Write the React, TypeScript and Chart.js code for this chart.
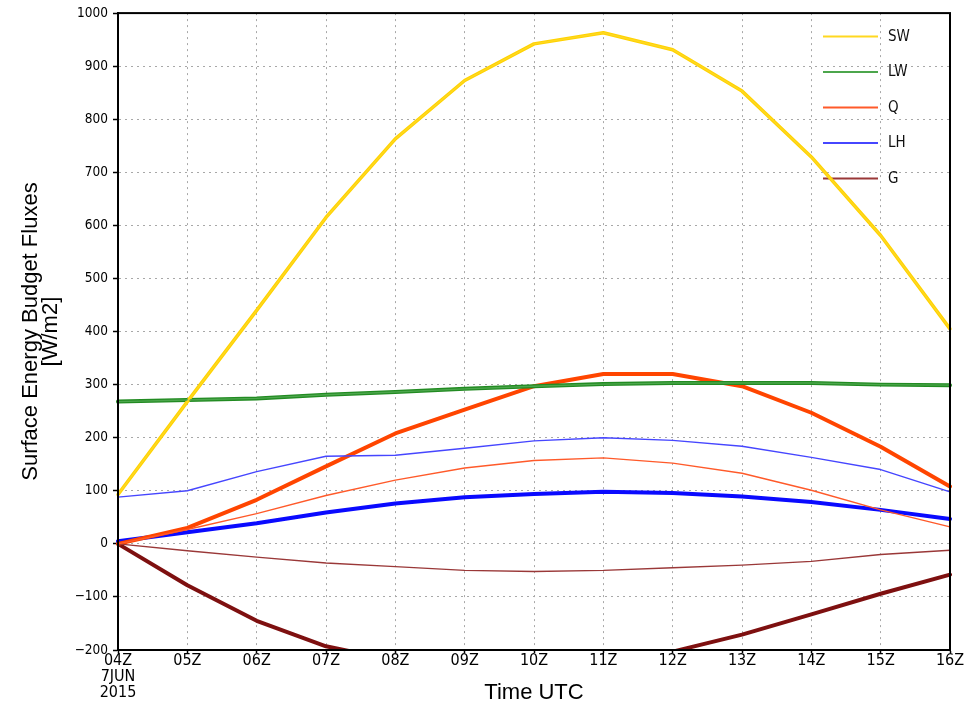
import React, { useEffect, useRef } from 'react';
import { Chart, registerables } from 'chart.js';

Chart.register(...registerables);

// ---- data ----
const timeLabels: (string | string[])[] = [
  ['04Z', '7JUN', '2015'], '05Z', '06Z', '07Z', '08Z', '09Z', '10Z', '11Z', '12Z', '13Z', '14Z', '15Z', '16Z',
];
const seriesNames = ['SW', 'LW', 'Q', 'LH', 'G'];

const swThin = [93, 268, 440, 615, 763, 873, 942, 963, 931, 853, 729, 581, 405];
const lwThin = [268, 271, 274, 281, 286, 292, 297, 301, 303, 303, 303, 300, 299];
const qThin = [0, 27, 57, 91, 120, 143, 157, 162, 152, 133, 101, 64, 32];
const lhThin = [88, 100, 136, 165, 167, 180, 194, 200, 195, 184, 163, 140, 98];
const gThin = [0, -13, -25, -36, -43, -50, -52, -50, -45, -40, -33, -20, -12];

const swThick = [93, 268, 440, 615, 763, 873, 942, 963, 931, 853, 729, 581, 405];
const lwThick = [268, 271, 274, 281, 286, 292, 297, 301, 303, 303, 303, 300, 299];
const qThick = [0, 30, 83, 146, 208, 253, 297, 320, 320, 297, 247, 183, 108];
const lhThick = [5, 22, 39, 59, 76, 88, 94, 98, 96, 89, 79, 64, 47];
const gThick = [0, -78, -145, -193, -220, -240, -250, -235, -203, -171, -133, -94, -58];

const yTickMin = -200;
const yTickMax = 1000;
const yTickStep = 100;

// ---- styles ----
const thinColors = ['#FFD820', '#4CA64C', '#FF5A2A', '#4646FF', '#9A3838'];
const thickColors = ['#FFD200', '#228B22', '#FF4500', '#0A0AFF', '#7E1010'];
const NARROW = '"Liberation Sans Narrow", "DejaVu Sans Condensed", "Liberation Sans", sans-serif';
const SANS = '"Liberation Sans", "DejaVu Sans", sans-serif';

const thinData = [swThin, lwThin, qThin, lhThin, gThin];
const thickData = [swThick, lwThick, qThick, lhThick, gThick];

const insideLegend = {
  id: 'insideLegend',
  beforeDatasetsDraw(chart: any) {
    const { ctx, chartArea } = chart;
    const items = chart.data.datasets.filter((d: any) => d.inLegend);
    ctx.save();
    items.forEach((d: any, i: number) => {
      const y = chartArea.top + 23.5 + i * 35.5;
      ctx.strokeStyle = d.borderColor;
      ctx.lineWidth = 2;
      ctx.beginPath();
      ctx.moveTo(chartArea.right - 127, y);
      ctx.lineTo(chartArea.right - 72, y);
      ctx.stroke();
      ctx.fillStyle = '#111';
      ctx.font = `15px ${NARROW}`;
      ctx.textAlign = 'left';
      ctx.textBaseline = 'middle';
      ctx.fillText(d.label, chartArea.right - 62, y + 0.5);
    });
    ctx.restore();
  },
};

const frame = {
  id: 'frame',
  afterDraw(chart: any) {
    const { ctx, chartArea } = chart;
    ctx.save();
    ctx.strokeStyle = '#000';
    ctx.lineWidth = 2;
    ctx.strokeRect(chartArea.left, chartArea.top, chartArea.right - chartArea.left, chartArea.bottom - chartArea.top);
    ctx.restore();
  },
};

export default function App() {
  const canvasRef = useRef<HTMLCanvasElement | null>(null);

  useEffect(() => {
    if (!canvasRef.current) return;
    const datasets: any[] = [];
    seriesNames.forEach((name, i) => {
      datasets.push({
        label: name,
        inLegend: true,
        data: thinData[i],
        borderColor: thinColors[i],
        borderWidth: 1.4,
        pointRadius: 0,
        tension: 0,
        fill: false,
      });
    });
    seriesNames.forEach((name, i) => {
      datasets.push({
        label: name + ' (run 2)',
        inLegend: false,
        data: thickData[i],
        borderColor: thickColors[i],
        borderWidth: i === 0 ? 3.5 : 4,
        pointRadius: 0,
        tension: 0,
        fill: false,
      });
    });

    const chart = new Chart(canvasRef.current, {
      type: 'line',
      data: { labels: timeLabels as any, datasets },
      plugins: [insideLegend, frame],
      options: {
        responsive: false,
        animation: false,
        devicePixelRatio: 1,
        layout: { padding: { left: 0, right: 28, top: 13, bottom: 0 } },
        plugins: {
          legend: { display: false },
          tooltip: { enabled: false },
          title: { display: false },
        },
        elements: {
          point: { radius: 0 },
          line: { tension: 0, borderJoinStyle: 'round', borderCapStyle: 'round' },
        },
        scales: {
          x: {
            type: 'category',
            offset: false,
            grid: {
              color: '#a8a8a8',
              lineWidth: 1,
              drawTicks: true,
              tickLength: 3,
              tickColor: '#000',
              tickWidth: 1.5,
              tickBorderDash: [],
            },
            border: { display: true, color: '#000', width: 2, dash: [2, 4] },
            ticks: {
              color: '#000',
              font: { family: NARROW, size: 16, lineHeight: 1.0 },
              padding: 0,
              maxRotation: 0,
              autoSkip: false,
            },
            title: {
              display: true,
              text: 'Time UTC',
              color: '#000',
              font: { family: SANS, size: 22, lineHeight: 1.0 },
              padding: { top: 0, bottom: 2 },
            },
            afterFit: (s: any) => {
              s.height = 56;
            },
          },
          y: {
            min: yTickMin,
            max: yTickMax,
            grid: {
              color: '#a8a8a8',
              lineWidth: 1,
              drawTicks: true,
              tickLength: 5,
              tickColor: '#000',
              tickWidth: 1.5,
              tickBorderDash: [],
            },
            border: { display: true, color: '#000', width: 2, dash: [2, 4] },
            ticks: {
              stepSize: yTickStep,
              color: '#000',
              font: { family: NARROW, size: 13.5 },
              padding: 5,
              autoSkip: false,
              callback: (v: any) => String(v).replace('-', '\u2212'),
            },
            title: {
              display: true,
              text: ['Surface Energy Budget Fluxes', '[W/m2]'],
              color: '#000',
              font: { family: SANS, size: 22, lineHeight: 0.9 },
              padding: { top: 21, bottom: 0 },
            },
            afterFit: (s: any) => {
              s.width = 118;
            },
          },
        },
      } as any,
    });
    return () => chart.destroy();
  }, []);

  return (
    <div style={{ position: 'fixed', left: 0, top: 0, width: 978, height: 706, background: '#fff' }}>
      <canvas ref={canvasRef} width={978} height={706} style={{ width: 978, height: 706 }} />
    </div>
  );
}
